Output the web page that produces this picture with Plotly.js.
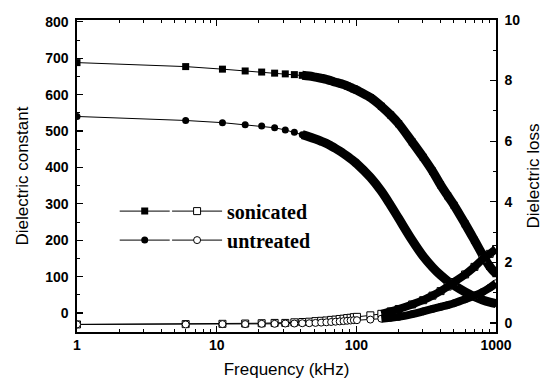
<!DOCTYPE html>
<html>
<head>
<meta charset="utf-8">
<script src="https://cdn.plot.ly/plotly-3.0.1.min.js"></script>
<style>html,body{margin:0;padding:0;background:#fff}#chart{width:543px;height:386px}</style>
</head>
<body>
<div id="chart"></div>
<script>
// Frequency (kHz)
var freq = [1,6,11,16,21,26,31,36,41,46,51,56,61,66,71,76,81,86,91,96,101,126,151,176,201,251,301,351,401,451,501,601,701,801,901,1000];
// Dielectric constant (left axis)
var sonicatedConst = [688,677,670,665,662,659,657,655,653,651,648,645,642,638,634,631,628,624,620,616,612,592,568,544,520,470,428,390,352,322,296,245,200,160,128,108];
var untreatedConst = [540,529,523,517,514,509,503,497,490,484,478,472,466,459,452,445,438,431,424,417,410,373,335,296,260,200,156,126,104,88,76,58,45,36,30,26];
// Dielectric loss (right axis)
var sonicatedLoss = [-0.05,-0.04,-0.03,-0.02,-0.01,0.0,0.0,0.02,0.03,0.04,0.06,0.07,0.08,0.1,0.11,0.13,0.14,0.16,0.17,0.19,0.2,0.25,0.3,0.38,0.46,0.61,0.75,0.9,1.05,1.2,1.35,1.6,1.85,2.1,2.28,2.44];
var untreatedLoss = [-0.05,-0.05,-0.04,-0.04,-0.03,-0.03,-0.02,-0.02,-0.01,-0.01,0.0,0.01,0.02,0.03,0.04,0.05,0.06,0.07,0.08,0.09,0.09,0.11,0.14,0.17,0.2,0.29,0.38,0.46,0.53,0.59,0.65,0.78,0.9,1.02,1.16,1.31];
var seriesNames = ['sonicated','untreated'];
var xTickVals = [1,10,100,1000];
var xTickText = ['1','10','100','1000'];

function from(arr, start){ return arr.slice(start); }
var constBandStart = 8;   // index where markers merge into a band
var lossBandStart = 22;

var black = '#000';
var traces = [
  {x:freq, y:sonicatedConst, name:' ', mode:'lines+markers', yaxis:'y', legend:'legend',
   line:{color:black,width:1}, marker:{symbol:'square',size:7,color:black}},
  {x:freq, y:untreatedConst, name:' ', mode:'lines+markers', yaxis:'y', legend:'legend',
   line:{color:black,width:1}, marker:{symbol:'circle',size:7,color:black}},
  {x:freq, y:sonicatedLoss, name:seriesNames[0], mode:'lines+markers', yaxis:'y2', legend:'legend2',
   line:{color:black,width:1}, marker:{symbol:'square',size:7,color:'#fff',line:{color:black,width:1}}},
  {x:freq, y:untreatedLoss, name:seriesNames[1], mode:'lines+markers', yaxis:'y2', legend:'legend2',
   line:{color:black,width:1}, marker:{symbol:'circle',size:7,color:'#fff',line:{color:black,width:1}}},
  {x:from(freq,constBandStart), y:from(sonicatedConst,constBandStart), mode:'lines', yaxis:'y', showlegend:false,
   line:{color:black,width:9,shape:'spline',smoothing:1}, hoverinfo:'skip'},
  {x:from(freq,constBandStart), y:from(untreatedConst,constBandStart), mode:'lines', yaxis:'y', showlegend:false,
   line:{color:black,width:9,shape:'spline',smoothing:1}, hoverinfo:'skip'},
  {x:from(freq,lossBandStart), y:from(sonicatedLoss,lossBandStart), mode:'lines', yaxis:'y2', showlegend:false,
   line:{color:black,width:8,shape:'spline',smoothing:1}, hoverinfo:'skip'},
  {x:from(freq,lossBandStart), y:from(untreatedLoss,lossBandStart), mode:'lines', yaxis:'y2', showlegend:false,
   line:{color:black,width:8,shape:'spline',smoothing:1}, hoverinfo:'skip'}
];

var tickFont = {family:'Liberation Sans, Arial, sans-serif', size:14, color:black, weight:'bold'};
var titleFont = {family:'Liberation Sans, Arial, sans-serif', size:17, color:black};
var xMinor = [2,3,4,5,6,7,8,9,20,30,40,50,60,70,80,90,200,300,400,500,600,700,800,900];

var layout = {
  width:543, height:386,
  margin:{l:77, r:47, t:20, b:54},
  paper_bgcolor:'#fff', plot_bgcolor:'#fff',
  showlegend:true,
  xaxis:{type:'log', range:[0,3], tickmode:'array', tickvals:xTickVals, ticktext:xTickText,
    ticks:'inside', ticklen:6, tickwidth:1.2, tickcolor:black,
    minor:{tickmode:'array', tickvals:xMinor, ticks:'inside', ticklen:3, tickwidth:1, tickcolor:black},
    showline:true, linecolor:black, linewidth:1.6, mirror:'ticks', showgrid:false, zeroline:false,
    tickfont:tickFont, title:{text:'Frequency (kHz)', font:titleFont, standoff:10}},
  yaxis:{range:[-52,805], tickmode:'linear', tick0:0, dtick:100,
    ticks:'inside', ticklen:6, tickwidth:1.2, tickcolor:black,
    minor:{dtick:50, ticks:'inside', ticklen:3, tickwidth:1, tickcolor:black},
    showline:true, linecolor:black, linewidth:1.6, showgrid:false, zeroline:false,
    tickfont:tickFont, ticklabelstandoff:4,
    title:{text:'Dielectric constant', font:titleFont, standoff:12}},
  yaxis2:{overlaying:'y', side:'right', range:[-0.3,10.0], tickmode:'linear', tick0:0, dtick:2,
    ticks:'inside', ticklen:6, tickwidth:1.2, tickcolor:black,
    minor:{dtick:1, ticks:'inside', ticklen:3, tickwidth:1, tickcolor:black},
    showline:true, linecolor:black, linewidth:1.6, showgrid:false, zeroline:false,
    tickfont:tickFont, ticklabelstandoff:4,
    title:{text:'Dielectric loss', font:titleFont, standoff:16}},
  legend:{x:0.09, y:0.45, xanchor:'left', yanchor:'top', bgcolor:'rgba(0,0,0,0)', borderwidth:0,
    itemwidth:50, tracegroupgap:0, font:{family:'Liberation Serif, Times New Roman, serif', size:20, color:black, weight:'bold'}},
  legend2:{x:0.215, y:0.45, xanchor:'left', yanchor:'top', bgcolor:'rgba(0,0,0,0)', borderwidth:0,
    itemwidth:50, tracegroupgap:0, font:{family:'Liberation Serif, Times New Roman, serif', size:20, color:black, weight:'bold'}}
};

Plotly.newPlot('chart', traces, layout, {displayModeBar:false, staticPlot:true});
</script>
</body>
</html>
